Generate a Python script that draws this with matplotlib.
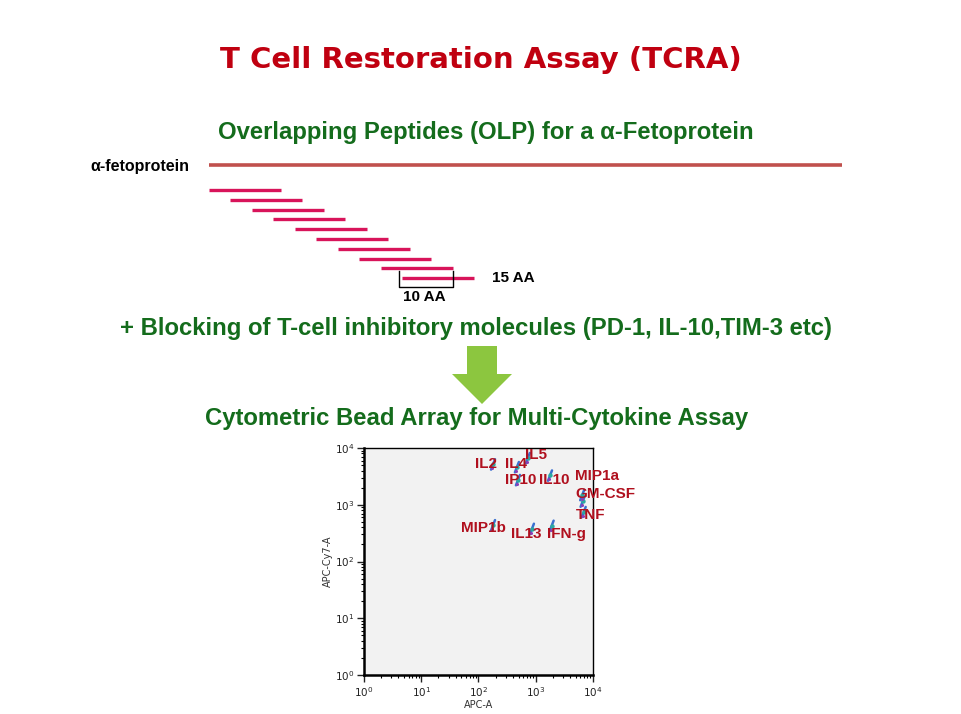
import matplotlib
matplotlib.use("Agg")
import matplotlib.pyplot as plt
from matplotlib.patches import Polygon
import numpy as np

# ---------------- data ----------------
cytokines = ["IL2", "IL4", "IL5", "IP10", "IL10", "MIP1a", "GM-CSF", "TNF", "MIP1b", "IL13", "IFN-g"]
cluster_x = [180, 470, 730, 490, 1780, 6500, 6600, 6900, 180, 860, 1900]
cluster_y = [5200, 4650, 6700, 2750, 3300, 1500, 1150, 750, 440, 380, 430]
label_x = [87, 290, 650, 290, 1140, 4900, 4950, 4950, 50, 370, 1580]
label_y = [5200, 5200, 7600, 2750, 2750, 3200, 1550, 650, 390, 300, 300]

x_ticks = [1, 10, 100, 1000, 10000]
y_ticks = [1, 10, 100, 1000, 10000]
x_label = "APC-A"
y_label = "APC-Cy7-A"

title = "T Cell Restoration Assay (TCRA)"
sub1 = "Overlapping Peptides (OLP) for a \u03b1-Fetoprotein"
sub2 = "+ Blocking of T-cell inhibitory molecules (PD-1, IL-10,TIM-3 etc)"
sub3 = "Cytometric Bead Array for Multi-Cytokine Assay"
protein_label = "\u03b1-fetoprotein"
n_peptides = 10
peptide_len_label = "15 AA"
overlap_label = "10 AA"

# ---------------- figure ----------------
W, H = 962, 714
fig = plt.figure(figsize=(W / 100, H / 100), dpi=100)
fig.patch.set_facecolor("white")

# overlay axes in pixel coordinates for the slide decoration
deco = fig.add_axes([0, 0, 1, 1])
deco.set_xlim(0, W)
deco.set_ylim(H, 0)
deco.axis("off")

red = "#c00010"
green = "#146c1c"
deco.text(481, 60, title, ha="center", va="center", fontsize=21, fontweight="bold",
          color=red, family="DejaVu Sans")
deco.text(486, 133, sub1, ha="center", va="center", fontsize=17.2, fontweight="bold",
          color=green, family="Liberation Sans")
deco.text(476, 329, sub2, ha="center", va="center", fontsize=17.2, fontweight="bold",
          color=green, family="Liberation Sans")
deco.text(477, 418, sub3, ha="center", va="center", fontsize=17.2, fontweight="bold",
          color=green, family="Liberation Sans")

# protein line
deco.text(90, 167, protein_label, ha="left", va="center", fontsize=11.5, fontweight="bold",
          color="black", family="Liberation Sans")
deco.plot([209, 842], [165, 165], color="#c0504d", lw=2.6, solid_capstyle="butt")

# overlapping peptides
for i in range(n_peptides):
    x0 = 209 + i * 21.5
    y0 = 190 + i * 9.8
    deco.plot([x0, x0 + 72], [y0, y0], color="#d8145a", lw=2.4, solid_capstyle="butt")
# bracket showing overlap
deco.plot([399, 399, 453, 453], [271, 287, 287, 271], color="black", lw=1.0)
deco.text(492, 278, peptide_len_label, ha="left", va="center", fontsize=11,
          fontweight="bold", family="Liberation Sans")
deco.text(424, 297, overlap_label, ha="center", va="center", fontsize=11,
          fontweight="bold", family="Liberation Sans")

# down arrow
arrow = Polygon([[467, 346], [497, 346], [497, 374], [512, 374], [482, 404],
                 [452, 374], [467, 374]], closed=True, facecolor="#8cc63f",
                edgecolor="none")
deco.add_patch(arrow)

# ---------------- scatter (flow cytometry) ----------------
ax = fig.add_axes([364 / W, 1 - 675 / H, (593 - 364) / W, (675 - 448) / H])
ax.set_facecolor("#f2f2f2")
ax.set_xscale("log")
ax.set_yscale("log")
ax.set_xlim(1, 10000)
ax.set_ylim(1, 10000)
ax.set_xticks(x_ticks)
ax.set_yticks(y_ticks)
ax.set_xticklabels([r"$10^{%d}$" % int(np.log10(v)) for v in x_ticks])
ax.set_yticklabels([r"$10^{%d}$" % int(np.log10(v)) for v in y_ticks])
ax.tick_params(which="major", direction="out", length=5, width=1, labelsize=7.5,
               colors="#222222", pad=2)
ax.tick_params(which="minor", direction="out", length=2.5, width=0.8)
for s in ["left", "bottom"]:
    ax.spines[s].set_linewidth(1.8)
for s in ["top", "right"]:
    ax.spines[s].set_linewidth(1.0)
ax.set_xlabel(x_label, fontsize=7, color="#333333", labelpad=1)
ax.set_ylabel(y_label, fontsize=7, color="#333333", labelpad=1)

cx = np.array(cluster_x, dtype=float)
cy = np.array(cluster_y, dtype=float)
# elongated diagonal clusters
for xv, yv in zip(cx, cy):
    ax.plot([xv * 0.92, xv * 1.08], [yv * 0.8, yv * 1.22], color="#3a6fd0", lw=1.8,
            solid_capstyle="round", zorder=3)
ax.scatter(cx, cy, s=10, color="#2aa8a0", marker="o", zorder=4, linewidths=0)
ax.scatter(cx * 0.97, cy * 0.85, s=5, color="#8a3fb8", marker="o", zorder=4, linewidths=0)

for name, lx, ly in zip(cytokines, label_x, label_y):
    ax.text(lx, ly, name, ha="left", va="center", fontsize=11, fontweight="bold",
            color="#b0101e", family="Liberation Sans", zorder=5, clip_on=False)

fig.savefig("out.png", dpi=100, facecolor="white")
